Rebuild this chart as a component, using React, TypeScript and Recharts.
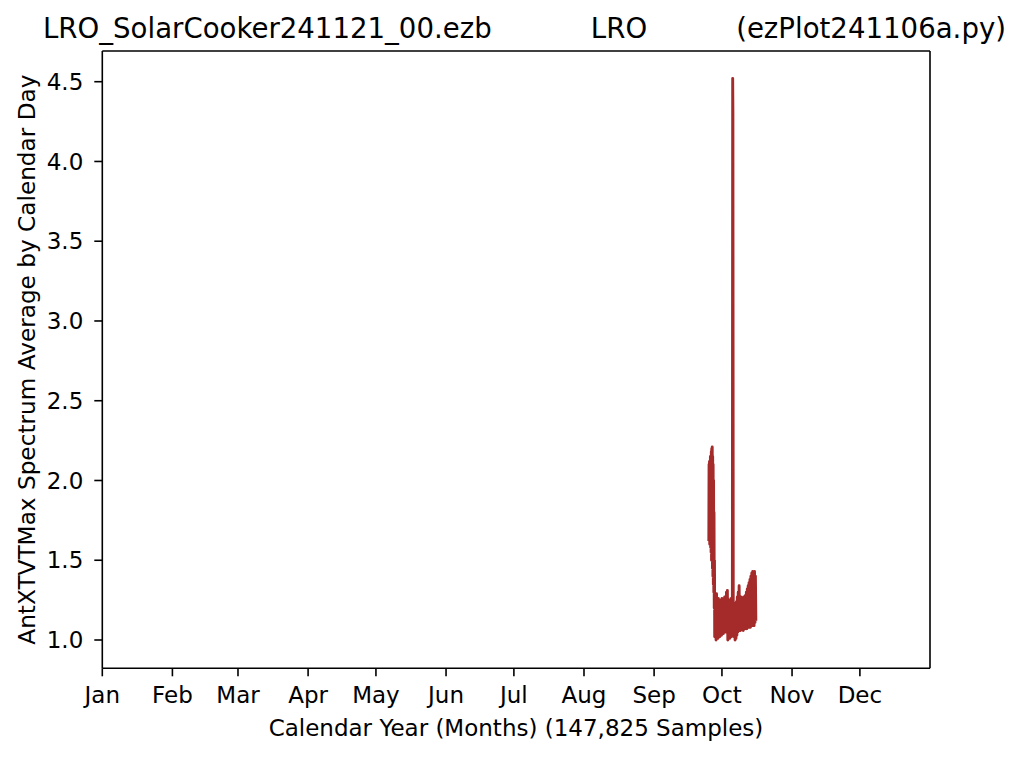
import React from "react";
import { LineChart, Line, XAxis, YAxis, ReferenceLine } from "recharts";

// Month starts (day-of-year offsets, leap year 2024)
const monthStarts = [0, 31, 60, 91, 121, 152, 182, 213, 244, 274, 305, 335];
const monthNames = ["Jan", "Feb", "Mar", "Apr", "May", "Jun", "Jul", "Aug", "Sep", "Oct", "Nov", "Dec"];
const yTicks = [1.0, 1.5, 2.0, 2.5, 3.0, 3.5, 4.0, 4.5];
const xDomain = [0, 366];
const yDomain = [0.8226, 4.6925];

// Day-of-year sample positions
const days = [
  268.2, 268.3, 268.4, 268.5, 268.6, 268.7, 268.8, 268.9, 269.0, 269.1,
  269.2, 269.3, 269.4, 269.5, 269.6, 269.7, 269.8, 269.9, 270.0, 270.1,
  270.2, 270.3, 270.4, 270.5, 270.6, 270.7, 270.8,
  271.0, 271.2, 271.4, 271.6, 271.8, 272.0, 272.2, 272.4, 272.6, 272.8,
  273.0, 273.2, 273.4, 273.6, 273.8, 274.0, 274.2, 274.4, 274.6, 274.8,
  275.0, 275.2, 275.4, 275.6, 275.8, 276.0, 276.2, 276.4, 276.6, 276.8,
  277.0, 277.2, 277.4, 277.6, 277.8, 278.0, 278.2, 278.4, 278.6, 278.75,
  278.85, 279.0, 279.2, 279.4, 279.6, 279.8, 280.0, 280.2, 280.4, 280.6,
  280.8, 281.0, 281.2, 281.4, 281.6, 281.8, 282.0, 282.2, 282.4, 282.6,
  282.8, 283.0, 283.2, 283.4, 283.6, 283.8, 284.0, 284.2, 284.4, 284.6,
  284.8, 285.0, 285.2, 285.4, 285.6, 285.8, 286.0, 286.2, 286.4, 286.6,
  286.8, 287.0, 287.2, 287.4, 287.6, 287.8, 288.0, 288.2, 288.4, 288.6,
  288.8, 289.0,
];

// AntXTVTMax spectrum average values
const values = [
  1.62, 2.10, 1.65, 2.12, 1.60, 2.05, 1.70, 2.15, 1.58, 2.08,
  1.55, 2.18, 1.50, 2.20, 1.52, 2.21, 1.45, 2.15, 1.40, 2.10,
  1.35, 2.00, 1.30, 1.80, 1.20, 1.50, 1.02,
  1.02, 1.27, 1.00, 1.29, 1.03, 1.25, 1.01, 1.26, 1.04, 1.24,
  1.02, 1.25, 1.05, 1.23, 1.03, 1.26, 1.06, 1.24, 1.04, 1.25,
  1.06, 1.27, 1.05, 1.26, 1.07, 1.30, 1.05, 1.31, 1.00, 1.24,
  1.03, 1.25, 1.01, 1.23, 1.04, 1.26, 1.02, 1.24, 1.05, 4.52,
  4.30, 1.10, 1.22, 1.02, 1.23, 1.00, 1.22, 1.01, 1.24, 1.03,
  1.27, 1.05, 1.30, 1.06, 1.34, 1.07, 1.26, 1.06, 1.27, 1.08,
  1.25, 1.07, 1.26, 1.06, 1.27, 1.08, 1.26, 1.07, 1.28, 1.08,
  1.30, 1.07, 1.32, 1.09, 1.34, 1.08, 1.36, 1.09, 1.38, 1.08,
  1.40, 1.10, 1.42, 1.09, 1.43, 1.10, 1.42, 1.09, 1.43, 1.11,
  1.40, 1.12,
];

const data = days.map((d, i) => ({ day: d, value: values[i] }));

const FONT = "DejaVu Sans";
const axisStyle = { stroke: "#000", strokeWidth: 1.6 };
const tickStyle = { fill: "#000", fontSize: 23, fontFamily: FONT };

export default function App() {
  return (
    <div style={{ position: "absolute", left: 0, top: 0, width: 1024, height: 757, background: "#fff" }}>
      <LineChart
        width={1024}
        height={757}
        data={data}
        margin={{ top: 51, right: 94, left: 0, bottom: 0 }}
      >
        <XAxis
          dataKey="day"
          type="number"
          domain={xDomain}
          allowDataOverflow
          ticks={monthStarts}
          interval={0}
          tickFormatter={(v: number) => monthNames[monthStarts.indexOf(v)]}
          height={88.7}
          tickSize={8}
          tickMargin={10}
          axisLine={axisStyle}
          tickLine={axisStyle}
          tick={tickStyle}
        />
        <YAxis
          type="number"
          domain={yDomain}
          allowDataOverflow
          ticks={yTicks}
          interval={0}
          tickFormatter={(v: number) => v.toFixed(1)}
          width={102.3}
          tickSize={8}
          tickMargin={11}
          axisLine={axisStyle}
          tickLine={axisStyle}
          tick={tickStyle}
        />
        <ReferenceLine y={yDomain[1]} stroke="#000" strokeWidth={1.6} ifOverflow="visible" />
        <ReferenceLine x={xDomain[1]} stroke="#000" strokeWidth={1.6} ifOverflow="visible" />
        <Line
          type="linear"
          dataKey="value"
          stroke="#a52a2a"
          strokeWidth={2.9}
          strokeLinejoin="round"
          dot={false}
          activeDot={false}
          isAnimationActive={false}
        />
      </LineChart>
      <svg
        width={1024}
        height={757}
        style={{ position: "absolute", left: 0, top: 0, pointerEvents: "none" }}
      >
        <g fontFamily={FONT} fill="#000">
          <text x={43} y={37.5} fontSize={27.6} textAnchor="start">LRO_SolarCooker241121_00.ezb</text>
          <text x={619} y={37.5} fontSize={27.6} textAnchor="middle">LRO</text>
          <text x={1006} y={37.5} fontSize={27.6} textAnchor="end">(ezPlot241106a.py)</text>
          <text x={516} y={736} fontSize={23} textAnchor="middle">Calendar Year (Months) (147,825 Samples)</text>
          <text x={35} y={359.6} fontSize={23.2} textAnchor="middle" transform="rotate(-90, 35, 359.6)">
            AntXTVTMax Spectrum Average by Calendar Day
          </text>
        </g>
      </svg>
    </div>
  );
}
